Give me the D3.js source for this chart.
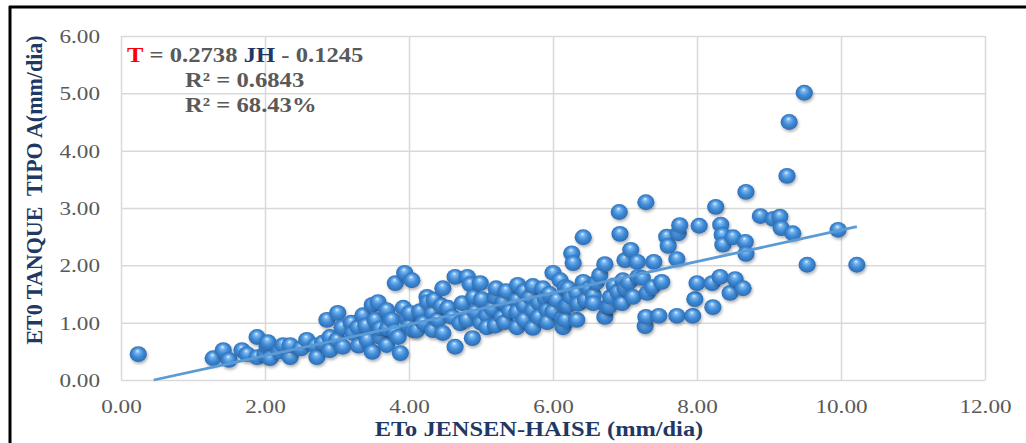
<!DOCTYPE html>
<html><head><meta charset="utf-8">
<script src="https://cdn.jsdelivr.net/npm/d3@7"></script>
<style>body{margin:0;background:#fff;overflow:hidden}</style>
</head><body><svg id="c" width="1026" height="443"></svg>
<script>
// ---- data ----
const xJH = [0.24,1.28,1.42,1.50,1.68,1.75,1.89,1.89,2.00,2.03,
2.04,2.07,2.20,2.25,2.35,2.35,2.50,2.58,2.70,2.72,
2.80,2.86,2.90,2.90,3.00,3.01,3.07,3.08,3.20,3.22,
3.29,3.30,3.36,3.40,3.42,3.49,3.49,3.53,3.57,3.60,
3.60,3.69,3.69,3.70,3.76,3.80,3.81,3.85,3.88,3.92,
3.94,3.97,4.00,4.01,4.04,4.06,4.11,4.15,4.20,4.25,
4.26,4.33,4.33,4.35,4.40,4.45,4.47,4.47,4.54,4.60,
4.64,4.64,4.71,4.74,4.80,4.81,4.85,4.88,4.90,4.92,
4.99,5.00,5.01,5.08,5.08,5.15,5.20,5.20,5.21,5.29,
5.31,5.33,5.35,5.40,5.50,5.50,5.50,5.51,5.60,5.60,
5.60,5.68,5.72,5.72,5.72,5.80,5.80,5.86,5.89,5.92,
5.92,5.95,6.00,6.00,6.05,6.10,6.13,6.14,6.17,6.17,
6.17,6.20,6.21,6.25,6.26,6.28,6.33,6.33,6.35,6.42,
6.42,6.45,6.50,6.56,6.56,6.60,6.65,6.72,6.72,6.75,
6.78,6.80,6.85,6.90,6.92,6.93,6.96,6.97,7.00,7.00,
7.05,7.08,7.11,7.17,7.18,7.24,7.28,7.29,7.29,7.31,
7.38,7.40,7.47,7.51,7.58,7.60,7.72,7.72,7.74,7.76,
7.94,7.97,8.00,8.03,8.21,8.22,8.26,8.32,8.33,8.35,
8.36,8.46,8.50,8.53,8.64,8.67,8.68,8.68,8.88,9.06,
9.15,9.17,9.25,9.28,9.33,9.49,9.53,9.96,10.22];
const yTA = [0.45,0.38,0.52,0.35,0.52,0.45,0.75,0.40,0.45,0.58,
0.66,0.38,0.50,0.61,0.40,0.61,0.55,0.70,0.60,0.40,
0.65,1.05,0.75,0.52,0.70,1.17,0.92,0.58,1.00,0.82,
0.92,0.60,1.13,0.95,0.70,1.31,0.49,1.05,1.36,0.75,
0.90,1.22,0.61,0.90,1.05,0.85,1.69,0.75,0.47,1.26,
1.87,1.08,0.95,1.17,1.74,0.87,0.87,1.20,1.00,1.45,
1.36,1.17,0.87,1.40,1.05,1.30,1.60,0.82,1.26,1.10,
1.80,0.58,0.99,1.34,1.05,1.80,1.67,0.73,1.45,1.19,
1.69,1.00,1.41,1.13,0.92,1.25,1.45,0.95,1.60,1.10,
1.36,1.01,1.55,1.20,1.40,1.19,0.92,1.66,1.30,1.55,
1.05,1.45,1.64,1.22,0.91,1.35,1.10,1.60,1.43,1.22,
1.01,1.50,1.87,1.20,1.40,1.74,1.08,0.92,1.62,1.28,
1.05,1.30,1.60,1.45,2.21,2.04,1.52,1.05,1.33,1.71,
2.49,1.40,1.60,1.48,1.34,1.70,1.83,2.02,1.10,1.27,
1.29,1.45,1.65,1.54,2.93,2.55,1.34,1.74,2.09,1.60,
1.70,2.27,1.45,2.06,1.80,1.78,0.94,3.10,1.10,1.52,
1.62,2.06,1.12,1.71,2.50,2.34,2.11,1.12,2.56,2.70,
1.12,1.41,1.69,2.69,1.69,1.27,3.02,1.80,2.71,2.53,
2.36,1.52,2.49,1.76,1.60,2.41,2.20,3.28,2.86,2.81,
2.85,2.65,3.56,4.50,2.56,5.01,2.01,2.62,2.01];
const xTicks = [0,2,4,6,8,10,12];
const yTicks = [0,1,2,3,4,5,6];
const trendSlope = 0.2738, trendIntercept = -0.1245;
const trendX = [0.455, 10.22];
const xTitle = "ETo JENSEN-HAISE (mm/dia)";
const yTitle = "ET0 TANQUE  TIPO A(mm/dia)";

// ---- drawing ----
const svg = d3.select("#c");
const FONT = "'Liberation Serif','Times New Roman',serif";
const SX = 1.22; // horizontal stretch of the original picture's text
const x = d3.scaleLinear().domain([0,12]).range([121,985]);
const y = d3.scaleLinear().domain([0,6]).range([380,36]);

const defs = svg.append("defs");
const g = defs.append("radialGradient").attr("id","sph")
  .attr("cx","0.5").attr("cy","0.5").attr("r","0.55").attr("fx","0.45").attr("fy","0.28");
[[0,"#e2f1ff"],[0.22,"#78b6f0"],[0.55,"#3f8bd6"],[0.85,"#3173bb"],[1,"#2b64a6"]]
  .forEach(([o,c])=>g.append("stop").attr("offset",o).attr("stop-color",c));
const f = defs.append("filter").attr("id","sh").attr("x","-50%").attr("y","-50%").attr("width","200%").attr("height","200%");
f.append("feDropShadow").attr("dx",1).attr("dy",2).attr("stdDeviation",1.4)
  .attr("flood-color","#000").attr("flood-opacity",0.3);

// frame (left and top edges visible)
svg.append("line").attr("x1",10).attr("x2",10).attr("y1",6).attr("y2",443)
  .attr("stroke","#000").attr("stroke-width",3);
svg.append("line").attr("x1",9).attr("x2",1026).attr("y1",7).attr("y2",7)
  .attr("stroke","#000").attr("stroke-width",3);

// grid via axes
const yAxis = svg.append("g").attr("transform",`translate(${x(0)},0)`)
  .call(d3.axisLeft(y).tickValues(yTicks).tickSize(-(x(12)-x(0))).tickFormat(d3.format(".2f")));
const xAxis = svg.append("g").attr("transform",`translate(0,${y(0)})`)
  .call(d3.axisBottom(x).tickValues(xTicks).tickSize(-(y(0)-y(6))).tickFormat(d3.format(".2f")));
[yAxis,xAxis].forEach(a=>{
  a.select(".domain").remove();
  a.selectAll(".tick line").attr("stroke","#d9d9d9").attr("stroke-width",1.5);
});
yAxis.selectAll(".tick text").attr("x",null).attr("dy",null)
  .attr("transform",`translate(-21,6.5) scale(${SX},1)`)
  .attr("text-anchor","end").attr("fill","#595959")
  .style("font-family",FONT).style("font-size","19px");
xAxis.selectAll(".tick text").attr("y",null).attr("dy",null)
  .attr("transform",`translate(0,33) scale(${SX},1)`)
  .attr("text-anchor","middle").attr("fill","#595959")
  .style("font-family",FONT).style("font-size","19px");

// points
svg.append("g").selectAll("ellipse").data(d3.range(Math.min(xJH.length,yTA.length)))
  .join("ellipse")
  .attr("cx",i=>x(xJH[i])).attr("cy",i=>y(yTA[i]))
  .attr("rx",8.6).attr("ry",7.9)
  .attr("fill","url(#sph)").attr("filter","url(#sh)");

// trendline
const line = d3.line().x(d=>x(d)).y(d=>y(trendSlope*d+trendIntercept));
svg.append("path").datum(trendX).attr("d",line)
  .attr("fill","none").attr("stroke","#5b9bd5").attr("stroke-width",2.8);

// equation
const eq = svg.append("text").attr("transform",`translate(127,62) scale(1.12,1)`)
  .style("font-family",FONT).style("font-size","22px").style("font-weight","bold").attr("fill","#595959");
eq.append("tspan").attr("fill","#ff0000").text("T");
eq.append("tspan").text(" = " + trendSlope.toFixed(4) + " ");
eq.append("tspan").attr("fill","#1f3864").text("JH");
eq.append("tspan").text(" - " + Math.abs(trendIntercept).toFixed(4));
svg.append("text").attr("transform",`translate(185,87) scale(1.12,1)`)
  .style("font-family",FONT).style("font-size","22px").style("font-weight","bold").attr("fill","#595959")
  .text("R² = 0.6843");
svg.append("text").attr("transform",`translate(185,112) scale(1.12,1)`)
  .style("font-family",FONT).style("font-size","22px").style("font-weight","bold").attr("fill","#595959")
  .text("R² = 68.43%");

// axis titles
svg.append("text").attr("transform",`translate(539,436) scale(${SX},1)`)
  .attr("text-anchor","middle").style("font-family",FONT).style("font-size","20px")
  .style("font-weight","bold").attr("fill","#1f3864").text(xTitle);
svg.append("text").attr("transform",`translate(42,190) scale(1.05,1) rotate(-90)`)
  .attr("text-anchor","middle").style("font-family",FONT).style("font-size","22px")
  .style("font-weight","bold").attr("fill","#1f3864").style("white-space","pre").text(yTitle);
</script></body></html>
